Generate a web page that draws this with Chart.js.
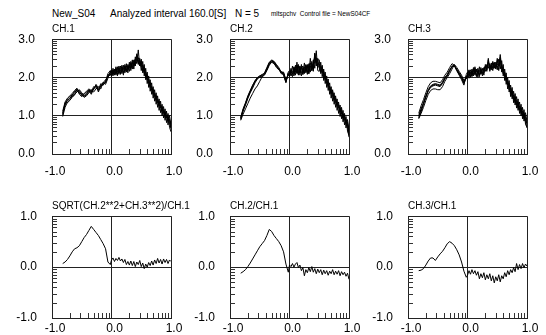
<!DOCTYPE html>
<html><head><meta charset="utf-8">
<script src="https://cdn.jsdelivr.net/npm/chart.js@4"></script>
<style>
html,body{margin:0;padding:0;background:#fff;}
#wrap{position:relative;width:546px;height:335px;overflow:hidden;background:#fff;font-family:'Liberation Sans',Arial,Helvetica,sans-serif;}
.hdr{position:absolute;white-space:nowrap;color:#000;}
canvas{position:absolute;}
</style></head><body>
<div id="wrap">
<div class="hdr" style="left:52px;top:8px;font-size:10px;line-height:12px">New_S04</div>
<div class="hdr" style="left:110px;top:8px;font-size:10px;line-height:12px">Analyzed interval 160.0[S]</div>
<div class="hdr" style="left:235px;top:8px;font-size:10px;line-height:12px">N = 5</div>
<div class="hdr" style="left:271px;top:10px;font-size:6.4px;line-height:8px">mltspchv&nbsp; Control file = NewS04CF</div>
</div>
<script>
// log10(frequency) positions
const X = [-0.82,-0.78,-0.74,-0.70,-0.66,-0.62,-0.58,-0.54,-0.50,-0.46,-0.42,-0.38,-0.34,-0.30,-0.26,-0.22,-0.18,-0.14,-0.10,-0.06,-0.02,
  0.000,0.025,0.050,0.075,0.100,0.125,0.150,0.175,0.200,0.225,
  0.250,0.275,0.300,0.325,0.350,0.375,0.400,0.425,0.450,0.475,
  0.500,0.525,0.550,0.575,0.600,0.625,0.650,0.675,0.700,0.725,
  0.750,0.775,0.800,0.825,0.850,0.875,0.900,0.925,0.950,0.975,
  1.000];

const X_TICKS = [-1.0, 0.0, 1.0];
const Y_TICKS_TOP = [0.0, 1.0, 2.0, 3.0];
const Y_TICKS_BOTTOM = [-1.0, 0.0, 1.0];
const TITLES = ['CH.1','CH.2','CH.3','SQRT(CH.2**2+CH.3**2)/CH.1','CH.2/CH.1','CH.3/CH.1'];

// CH.1 (5 segments)
const CH1_A = [1.05,1.30,1.40,1.46,1.52,1.60,1.70,1.62,1.54,1.50, 1.58,1.68,1.60,1.72,1.78,1.66,1.80,1.80,1.88,2.06, 2.12,
  2.20,2.04,2.22,2.06,2.28,2.08,2.30,2.10,2.32,2.12, 2.36,2.12,2.40,2.18,2.46,2.22,2.54,2.36,2.72,2.30,
  2.48,2.12,2.34,1.94,2.14,1.74,1.94,1.56,1.76,1.38, 1.60,1.22,1.44,1.08,1.30,0.94,1.18,0.82,1.06,0.70, 0.58];
const CH1_B = [1.12,1.36,1.46,1.52,1.58,1.66,1.72,1.56,1.50,1.58, 1.64,1.70,1.66,1.68,1.82,1.72,1.76,1.86,1.94,2.02, 2.10,
  2.02,2.24,2.06,2.28,2.04,2.30,2.08,2.32,2.06,2.34, 2.14,2.34,2.16,2.42,2.22,2.46,2.30,2.62,2.34,2.50,
  2.18,2.42,2.04,2.24,1.84,2.04,1.64,1.86,1.46,1.68, 1.30,1.52,1.14,1.38,1.00,1.24,0.88,1.12,0.76,1.00, 0.76];
const CH1_C = [0.98,1.22,1.36,1.42,1.48,1.56,1.62,1.68,1.60,1.48, 1.52,1.60,1.68,1.62,1.70,1.76,1.70,1.88,1.82,1.98, 2.16,
  2.14,2.08,2.20,2.10,2.24,2.12,2.22,2.28,2.12,2.30, 2.18,2.30,2.24,2.36,2.28,2.40,2.48,2.44,2.52,2.40,
  2.36,2.28,2.20,2.12,2.02,1.90,1.80,1.72,1.62,1.52, 1.46,1.40,1.30,1.24,1.16,1.10,1.04,0.98,0.92,0.82, 0.66];
const CH1_D = [1.08,1.28,1.44,1.50,1.54,1.64,1.66,1.58,1.58,1.56, 1.62,1.62,1.62,1.76,1.72,1.68,1.84,1.80,1.90,2.10, 2.18,
  2.06,2.20,2.10,2.24,2.14,2.26,2.10,2.24,2.26,2.16, 2.30,2.20,2.34,2.24,2.40,2.30,2.36,2.58,2.46,2.30,
  2.40,2.18,2.24,2.02,2.06,1.84,1.86,1.66,1.68,1.50, 1.52,1.34,1.38,1.20,1.24,1.06,1.10,0.94,0.98,0.88, 0.78];
const CH1_E = [1.02,1.34,1.34,1.40,1.50,1.54,1.68,1.66,1.52,1.52, 1.54,1.66,1.56,1.70,1.80,1.62,1.78,1.84,1.86,2.04, 2.06,
  2.16,2.12,2.14,2.20,2.08,2.22,2.18,2.16,2.22,2.26, 2.20,2.28,2.30,2.26,2.38,2.34,2.44,2.50,2.38,2.44,
  2.28,2.32,2.12,2.04,1.94,1.96,1.74,1.76,1.56,1.58, 1.40,1.42,1.26,1.28,1.12,1.16,0.98,1.02,0.86,0.90, 0.68];

// CH.2
const CH2_A = [0.90,1.12,1.28,1.45,1.60,1.72,1.86,1.96,2.02,2.04, 2.08,2.22,2.36,2.42,2.40,2.30,2.24,2.12,2.10,1.90, 2.10,
  2.02,2.24,2.08,2.28,2.06,2.40,2.10,2.28,2.04,2.26, 2.10,2.32,2.08,2.36,2.14,2.42,2.16,2.62,2.30,2.46,
  2.46,2.10,2.32,1.92,2.14,1.74,1.96,1.56,1.76,1.38, 1.60,1.22,1.44,1.06,1.28,0.92,1.14,0.76,0.98,0.60, 0.48];
const CH2_B = [0.94,1.16,1.32,1.50,1.64,1.78,1.92,2.00,2.04,2.06, 2.12,2.26,2.40,2.44,2.38,2.26,2.20,2.16,2.06,1.86, 2.14,
  2.18,2.04,2.30,2.08,2.32,2.12,2.30,2.06,2.34,2.08, 2.38,2.12,2.30,2.10,2.50,2.18,2.46,2.24,2.70,2.18,
  2.16,2.40,2.02,2.22,1.84,2.04,1.66,1.86,1.46,1.68, 1.30,1.52,1.14,1.36,0.98,1.22,0.84,1.06,0.68,0.90, 0.62];
const CH2_C = [0.88,1.04,1.18,1.32,1.46,1.58,1.70,1.78,1.90,2.02, 2.06,2.18,2.32,2.40,2.42,2.34,2.26,2.14,2.14,1.94, 2.06,
  2.08,2.14,2.12,2.04,2.22,2.18,2.06,2.30,2.14,2.08, 2.28,2.16,2.34,2.10,2.30,2.28,2.34,2.40,2.52,2.30,
  2.36,2.16,2.28,2.00,2.04,1.84,1.86,1.66,1.66,1.50, 1.52,1.34,1.34,1.20,1.20,1.04,1.04,0.88,0.90,0.72, 0.44];
const CH2_D = [0.92,1.14,1.30,1.48,1.62,1.76,1.88,1.98,2.00,2.02, 2.10,2.24,2.38,2.46,2.42,2.32,2.22,2.10,2.08,1.88, 2.12,
  2.12,2.10,2.02,2.26,2.14,2.32,2.16,2.14,2.28,2.12, 2.18,2.34,2.14,2.30,2.38,2.18,2.34,2.54,2.42,2.26,
  2.30,2.30,2.12,2.16,1.96,1.96,1.78,1.76,1.60,1.60, 1.42,1.46,1.28,1.30,1.10,1.16,0.94,1.00,0.80,0.84, 0.56];
const CH2_E = [0.96,1.18,1.34,1.52,1.66,1.80,1.90,1.98,2.04,2.08, 2.10,2.20,2.34,2.40,2.36,2.28,2.22,2.14,2.12,1.92, 2.08,
  2.06,2.20,2.16,2.12,2.28,2.10,2.34,2.12,2.24,2.30, 2.12,2.26,2.32,2.16,2.26,2.34,2.22,2.64,2.38,2.50,
  2.24,2.26,2.18,2.08,2.00,1.90,1.80,1.74,1.58,1.64, 1.44,1.42,1.30,1.26,1.14,1.10,0.98,0.96,0.82,0.80, 0.52];

// CH.3
const CH3_A = [0.98,1.15,1.32,1.50,1.66,1.76,1.80,1.82,1.80,1.78, 1.86,1.98,2.06,2.18,2.30,2.32,2.20,2.10,2.00,1.86, 2.02,
  2.00,2.18,2.00,2.22,2.04,2.24,2.02,2.20,2.06,2.26, 2.04,2.22,2.30,2.16,2.46,2.20,2.34,2.18,2.38,2.22,
  2.50,2.18,2.52,2.14,2.34,1.92,2.12,1.70,1.92,1.50, 1.74,1.34,1.58,1.20,1.44,1.06,1.30,0.92,1.16,0.78, 0.70];
const CH3_B = [1.06,1.26,1.42,1.60,1.76,1.86,1.90,1.90,1.88,1.86, 1.94,2.06,2.14,2.26,2.36,2.32,2.18,2.06,1.94,1.80, 2.08,
  2.14,1.98,2.20,2.04,2.26,2.06,2.22,2.00,2.28,2.08, 2.24,2.06,2.34,2.20,2.50,2.16,2.38,2.24,2.26,2.40,
  2.20,2.48,2.22,2.44,2.04,2.22,1.82,2.00,1.62,1.80, 1.44,1.64,1.28,1.50,1.14,1.36,1.00,1.22,0.86,1.08, 0.84];
const CH3_C = [0.92,1.06,1.22,1.40,1.56,1.66,1.70,1.70,1.68,1.68, 1.76,1.90,2.00,2.10,2.22,2.34,2.26,2.16,2.06,1.92, 1.96,
  2.08,2.06,2.12,2.08,2.18,2.12,2.16,2.24,2.02,2.22, 2.10,2.26,2.16,2.34,2.24,2.36,2.20,2.42,2.24,2.34,
  2.28,2.30,2.60,2.26,2.24,2.04,2.00,1.82,1.80,1.60, 1.62,1.42,1.46,1.28,1.32,1.14,1.18,1.00,1.04,0.84, 0.68];
const CH3_D = [1.00,1.18,1.34,1.52,1.68,1.78,1.82,1.84,1.82,1.80, 1.88,2.00,2.08,2.20,2.28,2.30,2.22,2.12,2.02,1.88, 2.04,
  2.04,2.20,2.02,2.18,2.08,2.28,2.04,2.16,2.20,2.14, 2.14,2.12,2.28,2.30,2.30,2.30,2.24,2.38,2.34,2.24,
  2.44,2.30,2.46,2.24,2.20,2.02,2.02,1.80,1.84,1.58, 1.64,1.44,1.48,1.30,1.34,1.16,1.20,1.02,1.06,0.88, 0.80];
const CH3_E = [0.94,1.10,1.30,1.48,1.64,1.74,1.78,1.80,1.78,1.76, 1.84,1.96,2.04,2.16,2.28,2.30,2.18,2.08,1.98,1.84, 2.00,
  2.06,2.08,2.14,2.02,2.22,2.10,2.18,2.14,2.16,2.10, 2.22,2.20,2.26,2.24,2.40,2.26,2.30,2.26,2.40,2.28,
  2.34,2.32,2.48,2.28,2.10,2.14,1.90,1.92,1.68,1.72, 1.50,1.54,1.34,1.40,1.20,1.26,1.06,1.12,0.92,0.98, 0.76];

// ratios
const SQRT_RATIO = [0.07,0.10,0.15,0.22,0.30,0.36,0.38,0.42,0.50,0.58, 0.64,0.72,0.80,0.74,0.68,0.62,0.54,0.46,0.36,0.10, 0.05,
  0.14,0.18,0.11,0.17,0.13,0.19,0.12,0.16,0.09,0.15, 0.05,0.11,0.04,0.12,0.03,0.11,0.01,0.10,0.05,0.13,
  0.01,0.08,-0.03,0.06,0.00,0.09,0.03,0.12,0.04,0.14, 0.07,0.17,0.08,0.15,0.06,0.16,0.09,0.15,0.07,0.14, 0.11];
const CH2_CH1 = [-0.12,-0.09,-0.05,0.01,0.08,0.16,0.24,0.32,0.40,0.46, 0.52,0.62,0.74,0.70,0.62,0.56,0.50,0.42,0.30,0.06, -0.10,
  0.04,0.01,0.07,0.00,0.06,0.09,-0.01,0.04,-0.07,-0.01, -0.17,-0.05,-0.11,-0.01,-0.09,0.01,-0.10,-0.03,-0.13,-0.04,
  -0.11,-0.05,-0.15,-0.06,-0.13,-0.07,-0.16,-0.08,-0.13,-0.05, -0.15,-0.08,-0.14,-0.07,-0.17,-0.09,-0.15,-0.10,-0.18,-0.12, -0.24];
const CH3_CH1 = [-0.07,-0.06,-0.03,0.04,0.12,0.18,0.18,0.13,0.20,0.26, 0.31,0.38,0.46,0.50,0.47,0.42,0.34,0.24,0.10,-0.08, -0.20,
  -0.16,-0.07,-0.14,-0.05,-0.13,-0.07,-0.16,-0.09,-0.23,-0.13, -0.21,-0.11,-0.25,-0.15,-0.23,-0.13,-0.27,-0.17,-0.31,-0.19,
  -0.27,-0.15,-0.29,-0.17,-0.23,-0.11,-0.19,-0.07,-0.15,-0.05, -0.11,-0.01,-0.09,0.07,-0.05,0.05,-0.03,0.07,-0.01,0.06, 0.02];

Chart.defaults.font.family = "'Liberation Sans', Arial, Helvetica, sans-serif";
Chart.defaults.color = '#000';

const FONT = "'Liberation Sans', Arial, Helvetica, sans-serif";
const AXIS_COLOR = '#222';
const L = 45, R = 25, T = 22, B = 28;

const panelDecor = {
  id: 'panelDecor',
  afterDatasetsDraw(chart) {
    const ctx = chart.ctx;
    const a = chart.chartArea;
    const xs = chart.scales.x, ys = chart.scales.y;
    const y0 = Math.round(Number(ys.min)), y1 = Math.round(Number(ys.max));
    const x0 = Math.round(Number(xs.min)), x1 = Math.round(Number(xs.max));
    ctx.save();
    ctx.fillStyle = '#333';
    for (let k = y0; k < y1; k++) {
      for (let m = 2; m <= 9; m++) {
        const py = Math.round(ys.getPixelForValue(k + Math.log(m) / Math.LN10));
        ctx.fillRect(Math.round(a.left), py, 5, 1);
      }
    }
    for (let k = x0; k < x1; k++) {
      for (let m = 2; m <= 9; m++) {
        const px = Math.round(xs.getPixelForValue(k + Math.log(m) / Math.LN10));
        ctx.fillRect(px, Math.round(a.bottom) - 5, 1, 5);
      }
    }
    ctx.restore();
  },
  afterDraw(chart, args, opts) {
    const ctx = chart.ctx;
    const a = chart.chartArea;
    ctx.save();
    ctx.fillStyle = '#000';
    ctx.font = '10px ' + FONT;
    ctx.textBaseline = 'middle';
    ctx.textAlign = 'left';
    ctx.fillText(opts.text, a.left, a.top - opts.gap);
    ctx.restore();
  }
};

function pts(vals) { return X.map((x, i) => ({x: x, y: vals[i]})); }

const panels = [
  {left: 52,  top: 37,  w: 119, h: 117, yt: Y_TICKS_TOP, series: [CH1_A, CH1_B, CH1_C, CH1_D, CH1_E], title: TITLES[0], gap: 10, xpad: 10, ypad: 17},
  {left: 230, top: 37,  w: 119, h: 117, yt: Y_TICKS_TOP, series: [CH2_A, CH2_B, CH2_C, CH2_D, CH2_E], title: TITLES[1], gap: 10, xpad: 10, ypad: 17},
  {left: 408, top: 37,  w: 119, h: 117, yt: Y_TICKS_TOP, series: [CH3_A, CH3_B, CH3_C, CH3_D, CH3_E], title: TITLES[2], gap: 10, xpad: 10, ypad: 17},
  {left: 52,  top: 216, w: 119, h: 102, yt: Y_TICKS_BOTTOM, series: [SQRT_RATIO], title: TITLES[3], gap: 9.5, xpad: 3, ypad: 15},
  {left: 230, top: 216, w: 119, h: 102, yt: Y_TICKS_BOTTOM, series: [CH2_CH1], title: TITLES[4], gap: 9.5, xpad: 3, ypad: 15},
  {left: 408, top: 216, w: 119, h: 102, yt: Y_TICKS_BOTTOM, series: [CH3_CH1], title: TITLES[5], gap: 9.5, xpad: 3, ypad: 15}
];

const wrap = document.getElementById('wrap');
panels.forEach(p => {
  const cv = document.createElement('canvas');
  const cw = L + p.w + R, ch = T + p.h + B;
  cv.width = cw; cv.height = ch;
  cv.style.width = cw + 'px'; cv.style.height = ch + 'px';
  cv.style.left = (p.left - L) + 'px';
  cv.style.top = (p.top - T) + 'px';
  wrap.appendChild(cv);
  const yt = p.yt;
  new Chart(cv.getContext('2d'), {
    type: 'line',
    data: {
      datasets: p.series.map(s => ({
        data: pts(s), borderColor: '#000', borderWidth: 1, pointRadius: 0,
        fill: false, tension: 0
      }))
    },
    options: {
      responsive: false, animation: false, devicePixelRatio: 1,
      layout: {padding: {top: T, right: R, left: 0, bottom: 0}},
      plugins: {legend: {display: false}, tooltip: {enabled: false}, panelDecor: {text: p.title, gap: p.gap}},
      events: [],
      scales: {
        x: {
          type: 'linear', min: X_TICKS[0], max: X_TICKS[X_TICKS.length - 1],
          afterBuildTicks: s => { s.ticks = X_TICKS.map(v => ({value: v})); },
          afterFit: s => { s.height = B; },
          ticks: {callback: v => Number(v).toFixed(1), labelOffset: 3, padding: p.xpad,
                  font: {size: 12}, color: '#000', maxRotation: 0, autoSkip: false},
          grid: {drawTicks: false, color: AXIS_COLOR, lineWidth: 1},
          border: {color: AXIS_COLOR, width: 1}
        },
        y: {
          type: 'linear', min: yt[0], max: yt[yt.length - 1],
          afterBuildTicks: s => { s.ticks = yt.map(v => ({value: v})); },
          afterFit: s => { s.width = L; },
          ticks: {callback: v => Number(v).toFixed(1), padding: p.ypad, font: {size: 12}, color: '#000', autoSkip: false},
          grid: {drawTicks: false, color: AXIS_COLOR, lineWidth: 1},
          border: {color: AXIS_COLOR, width: 1}
        }
      }
    },
    plugins: [panelDecor]
  });
});
</script>
</body></html>
